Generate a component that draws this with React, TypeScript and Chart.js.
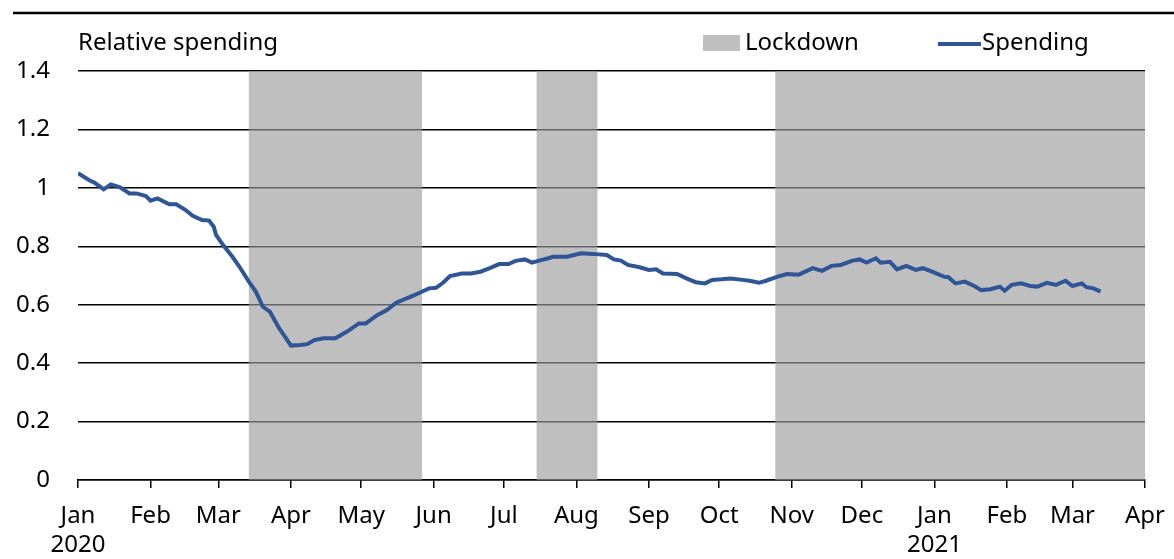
import React, { useEffect, useRef } from "react";
import { Chart, registerables } from "chart.js";

Chart.register(...registerables);

// Days counted from 1 Jan 2020
const monthDays = [0, 31, 60, 91, 121, 152, 182, 213, 244, 274, 305, 335, 366, 397, 425, 456];
const monthLabels: (string | string[])[] = [
  ["Jan", "2020"], "Feb", "Mar", "Apr", "May", "Jun", "Jul", "Aug", "Sep", "Oct", "Nov", "Dec",
  ["Jan", "2021"], "Feb", "Mar", "Apr",
];
const yTickValues = [0, 0.2, 0.4, 0.6, 0.8, 1, 1.2, 1.4];

const lockdownStarts = [73, 196, 298];
const lockdownEnds = [147, 222, 456];
const lockdownLevel = 1.4;

const spendingDays = [
  0, 5, 7, 11, 14, 18, 22, 25, 29, 31, 34, 39, 42, 46, 49, 53, 56, 58, 59, 62, 66, 69, 73, 76, 79, 82,
  86, 88, 91, 95, 98, 101, 105, 110, 115, 120, 123, 128, 132, 136, 142, 146, 150, 153, 156, 159, 164,
  168, 172, 176, 180, 184, 187, 191, 194, 197, 201, 203, 209, 215, 220, 226, 229, 232, 235, 240, 244,
  247, 250, 256, 260, 264, 268, 271, 275, 279, 284, 287, 291, 294, 299, 303, 308, 314, 318, 322, 326,
  331, 334, 337, 341, 343, 347, 350, 354, 358, 361, 365, 370, 372, 375, 379, 383, 386, 390, 394, 396,
  399, 403, 407, 410, 414, 418, 422, 425, 429, 431, 434, 437,
];
const spendingValues = [
  1.05, 1.025, 1.018, 0.995, 1.012, 1.002, 0.981, 0.981, 0.972, 0.956, 0.964, 0.944, 0.944, 0.924,
  0.904, 0.89, 0.888, 0.867, 0.839, 0.804, 0.764, 0.73, 0.679, 0.645, 0.593, 0.576, 0.519, 0.496, 0.46,
  0.462, 0.465, 0.479, 0.485, 0.485, 0.508, 0.536, 0.536, 0.565, 0.582, 0.607, 0.627, 0.641, 0.656,
  0.658, 0.675, 0.698, 0.707, 0.707, 0.713, 0.725, 0.739, 0.739, 0.75, 0.755, 0.744, 0.751, 0.759,
  0.764, 0.764, 0.776, 0.774, 0.77, 0.755, 0.751, 0.736, 0.728, 0.719, 0.721, 0.707, 0.705, 0.69,
  0.677, 0.673, 0.685, 0.687, 0.69, 0.685, 0.682, 0.675, 0.682, 0.696, 0.705, 0.703, 0.725, 0.716,
  0.733, 0.736, 0.751, 0.755, 0.744, 0.759, 0.744, 0.747, 0.721, 0.733, 0.719, 0.725, 0.713, 0.696,
  0.694, 0.673, 0.679, 0.664, 0.65, 0.653, 0.662, 0.648, 0.668, 0.673, 0.664, 0.662, 0.675, 0.668,
  0.682, 0.664, 0.673, 0.66, 0.656, 0.645,
];

const FONT = "'Noto Sans', sans-serif";
const FONT_SIZE = 24;
const SPEND_COLOR = "#2f5597";
const LOCK_COLOR = "#bfbfbf";

export default function App() {
  const ref = useRef<HTMLCanvasElement | null>(null);

  useEffect(() => {
    if (!ref.current) return;

    const lockdownData: { x: number; y: number }[] = [{ x: 0, y: 0 }];
    lockdownStarts.forEach((s, i) => {
      lockdownData.push({ x: s, y: 0 });
      lockdownData.push({ x: s, y: lockdownLevel });
      const e = lockdownEnds[i];
      lockdownData.push({ x: e, y: lockdownLevel });
      if (i < lockdownStarts.length - 1) lockdownData.push({ x: e, y: 0 });
    });

    const spendingData = spendingDays.map((d, i) => ({ x: d, y: spendingValues[i] }));

    const decor = {
      id: "decor",
      afterDraw(chart: any) {
        const ctx = chart.ctx;
        ctx.save();
        // top rule
        ctx.strokeStyle = "#000";
        ctx.lineWidth = 2.5;
        ctx.beginPath();
        ctx.moveTo(13, 13);
        ctx.lineTo(1174, 13);
        ctx.stroke();
        // title
        ctx.fillStyle = "#000";
        ctx.font = `${FONT_SIZE}px ${FONT}`;
        ctx.textBaseline = "middle";
        ctx.textAlign = "left";
        ctx.fillText("Relative spending", 78, 43);
        // legend
        ctx.fillStyle = LOCK_COLOR;
        ctx.fillRect(703, 35, 37, 16);
        ctx.fillStyle = "#000";
        ctx.fillText("Lockdown", 745, 43);
        ctx.strokeStyle = SPEND_COLOR;
        ctx.lineWidth = 4;
        ctx.beginPath();
        ctx.moveTo(938, 44);
        ctx.lineTo(981, 44);
        ctx.stroke();
        ctx.fillText("Spending", 982, 43);
        ctx.restore();
      },
    };

    const chart = new Chart(ref.current, {
      type: "line",
      data: {
        datasets: [
          {
            label: "Spending",
            data: spendingData,
            borderColor: SPEND_COLOR,
            borderWidth: 4,
            pointRadius: 0,
            tension: 0,
            fill: false,
            order: 1,
          },
          {
            label: "Lockdown",
            data: lockdownData,
            borderColor: "transparent",
            borderWidth: 0,
            backgroundColor: "rgba(156,156,156,0.643)",
            pointRadius: 0,
            tension: 0,
            fill: "origin",
            order: 2,
          },
        ],
      },
      options: {
        animation: false,
        responsive: false,
        layout: { padding: { top: 71, right: 29, left: 0, bottom: 0 } },
        plugins: {
          legend: { display: false },
          tooltip: { enabled: false },
          title: { display: false },
        },
        scales: {
          x: {
            type: "linear",
            min: 0,
            max: 456,
            afterBuildTicks: (scale: any) => {
              scale.ticks = monthDays.map((v) => ({ value: v }));
            },
            afterFit: (scale: any) => {
              scale.height = 79;
              scale.paddingLeft = 0;
              scale.paddingRight = 0;
            },
            ticks: {
              autoSkip: false,
              maxRotation: 0,
              padding: 14,
              color: "#000",
              font: { family: FONT, size: FONT_SIZE },
              callback: (_v: any, i: number) => monthLabels[i],
            },
            grid: {
              drawOnChartArea: false,
              drawTicks: true,
              tickLength: 8,
              color: "#000",
              lineWidth: 1.5,
            },
            border: { display: true, color: "#000", width: 1.5 },
          },
          y: {
            min: 0,
            max: 1.4,
            afterBuildTicks: (scale: any) => {
              scale.ticks = yTickValues.map((v) => ({ value: v }));
            },
            afterFit: (scale: any) => {
              scale.width = 78;
              scale.paddingTop = 0;
              scale.paddingBottom = 0;
            },
            ticks: {
              padding: 28,
              color: "#000",
              font: { family: FONT, size: FONT_SIZE },
              callback: (v: any) => String(Math.round(v * 10) / 10),
            },
            grid: {
              drawTicks: false,
              color: "#000",
              lineWidth: 1.5,
            },
            border: { display: false },
          },
        },
      },
      plugins: [decor],
    } as any);

    return () => chart.destroy();
  }, []);

  return (
    <div style={{ position: "absolute", left: 0, top: 0, width: 1174, height: 559, background: "#fff" }}>
      <canvas ref={ref} width={1174} height={559} />
    </div>
  );
}
